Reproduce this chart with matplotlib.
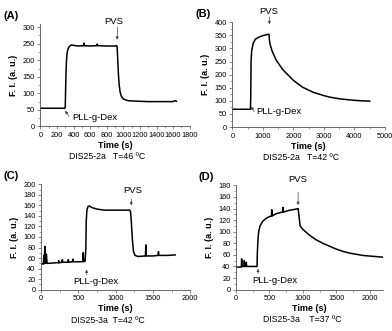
import matplotlib.pyplot as plt
from matplotlib.ticker import MultipleLocator

plt.rcParams['font.family'] = ['Liberation Sans', 'DejaVu Sans']

# (A) DIS25-2a, 46 C
t_a = [0, 100, 200, 295, 300, 305, 310, 315, 320, 330, 345, 370, 400, 450, 520, 525, 530,
       600, 680, 685, 690, 800, 900, 920, 925, 930, 940, 950, 960, 975, 1000, 1050, 1100,
       1200, 1300, 1400, 1500, 1600, 1620, 1640]
fi_a = [55, 55, 55, 55, 60, 120, 170, 200, 218, 232, 240, 246, 245, 243, 244, 252, 244,
        243, 244, 249, 244, 243, 243, 244, 240, 215, 160, 125, 105, 92, 83, 78, 77,
        76, 75, 75, 75, 75, 78, 76]

# (B) DIS25-2a, 42 C
t_b = [0, 200, 400, 590, 600, 610, 630, 680, 750, 900, 1100, 1200, 1210, 1230, 1300, 1430,
       1650, 2000, 2300, 2640, 3000, 3200, 3500, 3740, 4000, 4290, 4500]
fi_b = [68, 68, 68, 68, 120, 250, 290, 320, 335, 345, 352, 354, 335, 318, 290, 256,
        219, 178, 152, 133, 120, 114, 108, 105, 102, 100, 99]

# (C) DIS25-3a, 42 C
t_c = [0, 20, 30, 35, 40, 50, 55, 60, 65, 70, 80, 100, 200, 230, 235, 240, 280, 285, 290,
       360, 365, 370, 420, 425, 430, 500, 560, 565, 570, 590, 600, 605, 615, 630, 645, 680,
       750, 850, 1000, 1100, 1190, 1200, 1210, 1225, 1240, 1260, 1300, 1400, 1405, 1410,
       1500, 1570, 1575, 1580, 1700, 1800]
fi_c = [48, 49, 49, 65, 49, 82, 50, 68, 50, 67, 50, 50, 51, 51, 55, 51, 52, 57, 52,
        52, 57, 52, 53, 58, 53, 53, 53, 70, 53, 54, 80, 130, 152, 158, 159, 156,
        153, 151, 151, 151, 151, 148, 130, 95, 72, 65, 63, 64, 85, 64,
        64, 65, 72, 65, 65, 66]

# (D) DIS25-3a, 37 C
t_d = [0, 60, 80, 85, 90, 120, 125, 130, 150, 155, 160, 250, 315, 320, 330, 340, 360, 400,
       450, 500, 530, 535, 540, 600, 700, 705, 710, 800, 900, 930, 945, 960, 1000, 1100,
       1200, 1300, 1400, 1500, 1600, 1700, 1800, 1900, 2000, 2100, 2200]
fi_d = [39, 39, 39, 53, 40, 40, 50, 40, 40, 47, 40, 40, 40, 65, 88, 100, 110, 118,
        123, 126, 127, 138, 127, 131, 134, 142, 134, 137, 139, 140, 125, 110, 104, 94,
        86, 80, 75, 70, 66, 63, 61, 59, 58, 57, 56]

panels = [
    dict(tag='(A)', t=t_a, fi=fi_a, rect=[0.103, 0.618, 0.381, 0.310], xlim=1800,
         xmaj=200, xmin=100, ylim=310, ymaj=50, ymin=25, cap='DIS25-2a   T=46 ºC',
         pvs=(925, 262, 930, 300), pvs_txt=(880, 318),
         pll=(300, 47, 345, 30), pll_txt=(385, 27)),
    dict(tag='(B)', t=t_b, fi=fi_b, rect=[0.593, 0.616, 0.389, 0.317], xlim=5000,
         xmaj=1000, xmin=500, ylim=400, ymaj=50, ymin=25, cap='DIS25-2a   T=42 ºC',
         pvs=(1210, 392, 1210, 420), pvs_txt=(1180, 440),
         pll=(610, 78, 720, 58), pll_txt=(770, 58)),
    dict(tag='(C)', t=t_c, fi=fi_c, rect=[0.105, 0.125, 0.380, 0.318], xlim=2000,
         xmaj=500, xmin=250, ylim=200, ymaj=20, ymin=10, cap='DIS25-3a  T=42 ºC',
         pvs=(1210, 160, 1210, 172), pvs_txt=(1230, 188),
         pll=(610, 38, 610, 28), pll_txt=(430, 16)),
    dict(tag='(D)', t=t_d, fi=fi_d, rect=[0.602, 0.125, 0.375, 0.315], xlim=2200,
         xmaj=500, xmin=250, ylim=180, ymaj=20, ymin=10, cap='DIS25-3a    T=37 ºC',
         pvs=(930, 146, 930, 168), pvs_txt=(930, 190),
         pll=(330, 36, 330, 28), pll_txt=(250, 16)),
]

fig = plt.figure(figsize=(3.92, 3.31), dpi=100)

for p in panels:
    ax = fig.add_axes(p['rect'])
    ax.plot(p['t'], p['fi'], color='black', lw=1.1)
    ax.set_xlim(0, p['xlim'])
    ax.set_ylim(0, p['ylim'])
    ax.xaxis.set_major_locator(MultipleLocator(p['xmaj']))
    ax.xaxis.set_minor_locator(MultipleLocator(p['xmin']))
    ax.yaxis.set_major_locator(MultipleLocator(p['ymaj']))
    ax.yaxis.set_minor_locator(MultipleLocator(p['ymin']))
    for s in ('top', 'right'):
        ax.spines[s].set_visible(False)
    for s in ('left', 'bottom'):
        ax.spines[s].set_linewidth(0.6)
        ax.spines[s].set_color('#555555')
    ax.tick_params(which='major', length=2.5, width=0.5, labelsize=5.3, pad=1.5, color='#555555')
    ax.tick_params(which='minor', length=1.5, width=0.4, color='#555555')
    ax.set_xlabel('Time (s)', fontsize=6.5, fontweight='bold', labelpad=1.5)
    ax.set_ylabel('F. I. (a. u.)', fontsize=6.5, fontweight='bold', labelpad=3)
    ax.text(0.45, -0.29, p['cap'], transform=ax.transAxes, ha='center', va='center', fontsize=6.3)

    # injection markers
    x1, y1, x2, y2 = p['pvs']
    ax.annotate('', xy=(x1, y1), xytext=(x2, y2), annotation_clip=False,
                arrowprops=dict(arrowstyle='-|>', lw=0.5, color='#444444',
                                mutation_scale=4, shrinkA=0, shrinkB=0))
    ax.text(p['pvs_txt'][0], p['pvs_txt'][1], 'PVS', fontsize=6.8, ha='center', va='center',
            clip_on=False)
    x1, y1, x2, y2 = p['pll']
    ax.annotate('', xy=(x1, y1), xytext=(x2, y2), annotation_clip=False,
                arrowprops=dict(arrowstyle='-|>', lw=0.5, color='#444444',
                                mutation_scale=4, shrinkA=0, shrinkB=0))
    ax.text(p['pll_txt'][0], p['pll_txt'][1], 'PLL-g-Dex', fontsize=6.8, ha='left', va='center')

    bbox = ax.get_position()
    fig.text(bbox.x0 - 0.095, bbox.y1 + 0.025, p['tag'], fontsize=8, fontweight='bold',
             ha='left', va='center')

fig.savefig('out.png', dpi=100)
